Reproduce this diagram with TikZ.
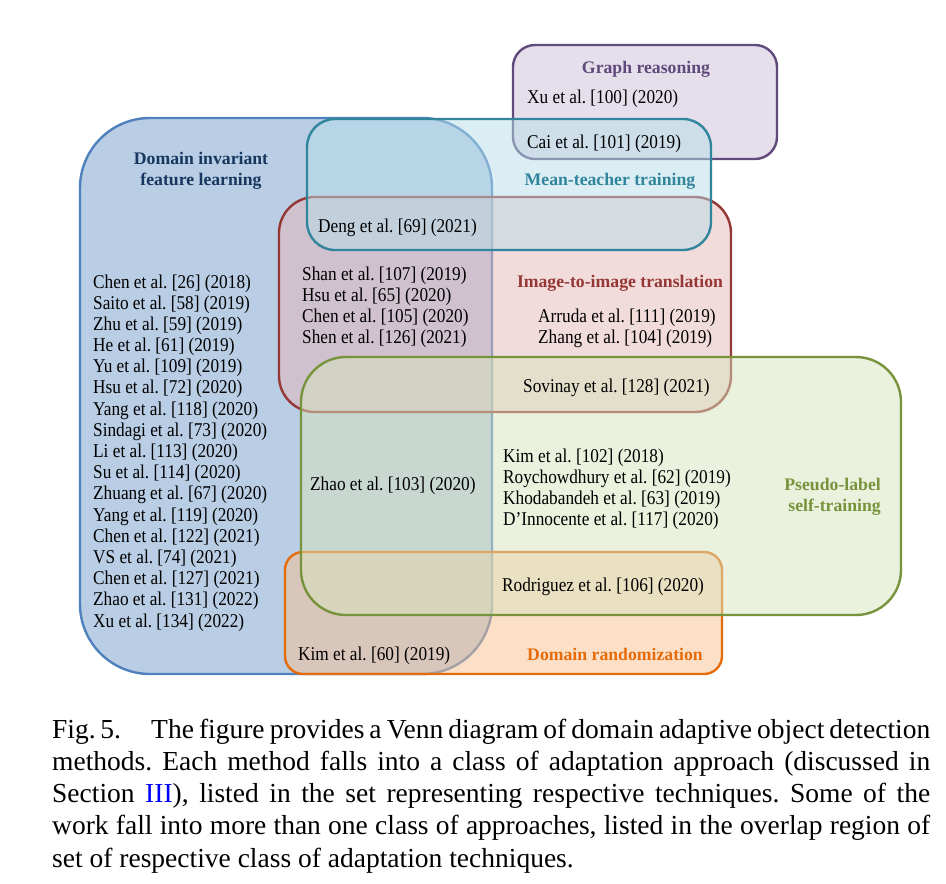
\documentclass[tikz,border=0pt]{standalone}
\usepackage{fontspec}
\setmainfont{Liberation Serif}
\newfontfamily\figfont[FakeStretch=0.885]{Liberation Serif}
\definecolor{blueD}{HTML}{4F81BD}
\definecolor{blueF}{HTML}{B9CDE5}
\definecolor{purpD}{HTML}{604A7B}
\definecolor{purpF}{HTML}{CCC1DA}
\definecolor{purpT}{HTML}{5F497A}
\definecolor{tealD}{HTML}{31859C}
\definecolor{tealF}{HTML}{B7DEE8}
\definecolor{redD}{HTML}{953735}
\definecolor{redF}{HTML}{E6B9B8}
\definecolor{grnD}{HTML}{77933C}
\definecolor{grnF}{HTML}{D7E4BD}
\definecolor{orgD}{HTML}{E46C0A}
\definecolor{orgF}{HTML}{FAC090}
\definecolor{navyT}{HTML}{17375E}
\definecolor{capblue}{HTML}{0000FF}
\frenchspacing
\begin{document}
\begin{tikzpicture}[x=1pt,y=-1pt,
  vset/.style={line width=2.4pt, rounded corners=#1},
  lbl/.style={font=\fontsize{17.7}{20}\selectfont\bfseries, inner sep=0pt, anchor=base},
  cite/.style={font=\figfont\fontsize{19.5}{21.2}\selectfont, inner sep=0pt, anchor=base west},
  capline/.style={font=\fontsize{27.5}{32.3}\selectfont\frenchspacing, inner sep=0pt, anchor=base west},
]
\useasboundingbox[fill=white] (0,0) rectangle (946,884);

% sets
\path[vset=70, fill=blueF, draw=blueD] (80,118) rectangle (492,674);
\path[vset=22, fill=purpF, fill opacity=0.5, draw=purpD] (513,45) rectangle (777,159);
\path[vset=36, fill=redF, fill opacity=0.5, draw=redD] (279,197) rectangle (731,412);
\path[vset=18, fill=orgF, fill opacity=0.5, draw=orgD] (285,552) rectangle (722,674);
\path[vset=45, fill=grnF, fill opacity=0.5, draw=grnD] (301,357) rectangle (901,615);
\path[vset=28, fill=tealF, fill opacity=0.5, draw=tealD] (307,119) rectangle (711,250);

% set labels
\node[lbl, text=purpT] (gr) at (646,73) {Graph reasoning};
\node[lbl, text=navyT] (dil1) at (201,164) {Domain invariant};
\node[lbl, text=navyT] (dil2) at (201,185) {feature learning};
\node[lbl, text=tealD] (mt) at (610,185) {Mean-teacher training};
\node[lbl, text=redD] (i2i) at (620,287) {Image-to-image translation};
\node[lbl, text=grnD, anchor=base east] (pl1) at (881,490) {Pseudo-label};
\node[lbl, text=grnD, anchor=base east] (pl2) at (881,511) {self-training};
\node[lbl, text=orgD] (dr) at (615,660) {Domain randomization};

% citations
\node[cite] (xu100) at (527,103) {Xu et al. [100] (2020)};
\node[cite] (cai) at (527,148) {Cai et al. [101] (2019)};
\node[cite] (deng) at (318,232) {Deng et al. [69] (2021)};
\foreach \t [count=\i from 0] in {Shan et al. [107] (2019), Hsu et al. [65] (2020), Chen et al. [105] (2020), Shen et al. [126] (2021)}
  \node[cite] (sh\i) at (302,280+21.3*\i) {\t};
\node[cite] (arr) at (538,322) {Arruda et al. [111] (2019)};
\node[cite] (zh104) at (538,343.3) {Zhang et al. [104] (2019)};
\node[cite] (sov) at (523,392) {Sovinay et al. [128] (2021)};
\foreach \t [count=\i from 0] in {Chen et al. [26] (2018), Saito et al. [58] (2019), Zhu et al. [59] (2019), He et al. [61] (2019), Yu et al. [109] (2019), Hsu et al. [72] (2020), Yang et al. [118] (2020), Sindagi et al. [73] (2020), Li et al. [113] (2020), Su et al. [114] (2020), Zhuang et al. [67] (2020), Yang et al. [119] (2020), Chen et al. [122] (2021), VS et al. [74] (2021), Chen et al. [127] (2021), Zhao et al. [131] (2022), Xu et al. [134] (2022)}
  \node[cite] (di\i) at (93,288+21.19*\i) {\t};
\node[cite] (zh103) at (310,490) {Zhao et al. [103] (2020)};
\foreach \t [count=\i from 0] in {Kim et al. [102] (2018), Roychowdhury et al. [62] (2019), Khodabandeh et al. [63] (2019), D’Innocente et al. [117] (2020)}
  \node[cite] (ps\i) at (503,462+21.3*\i) {\t};
\node[cite] (rod) at (502,591) {Rodriguez et al. [106] (2020)};
\node[cite] (kim60) at (298,660) {Kim et al. [60] (2019)};

% caption
\node[capline] (c1) at (52,738) {\makebox[878pt][s]{Fig.\,5.\hspace{1.1em}The figure provides a Venn diagram of domain adaptive object detection}};
\node[capline] (c2) at (52,770.3) {\makebox[878pt][s]{methods. Each method falls into a class of adaptation approach (discussed in}};
\node[capline] (c3) at (52,802.6) {\makebox[878pt][s]{Section \textcolor{capblue}{III}), listed in the set representing respective techniques. Some of the}};
\node[capline] (c4) at (52,834.9) {\makebox[878pt][s]{work fall into more than one class of approaches, listed in the overlap region of}};
\node[capline] (c5) at (52,867.2) {set of respective class of adaptation techniques.};
\end{tikzpicture}
\end{document}
